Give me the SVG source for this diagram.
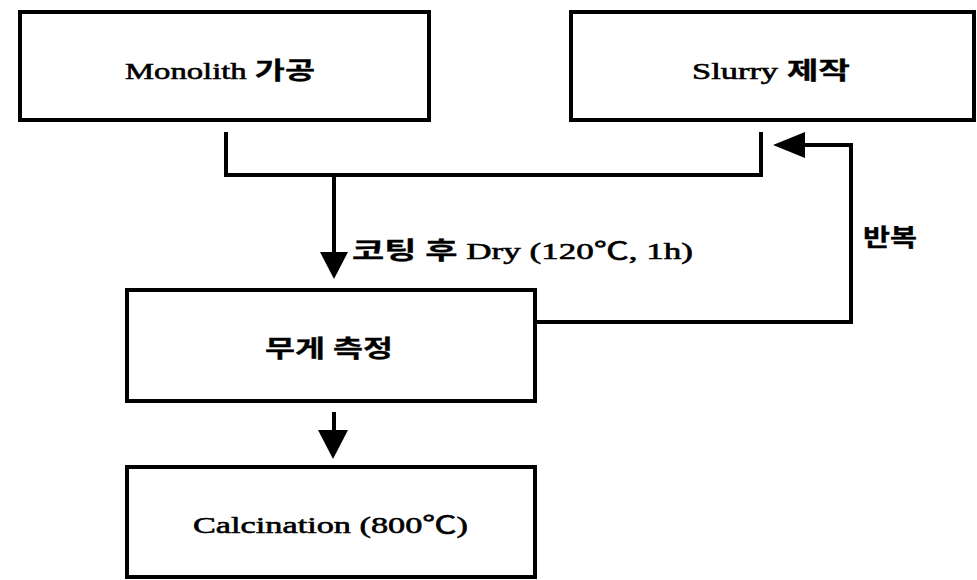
<svg xmlns="http://www.w3.org/2000/svg" width="977" height="580" viewBox="0 0 977 580">
<defs>
<style>
.box{fill:#fff;stroke:#000;stroke-width:4}
.ln{fill:none;stroke:#000;stroke-width:4;stroke-linejoin:miter}
.t{font-family:"Liberation Serif","Noto Sans CJK KR",serif;font-size:24px;font-weight:normal;fill:#000;stroke:#000;stroke-width:0.6}
.k{font-size:24px;font-weight:bold;stroke-width:0.3}
</style>
</defs>
<rect width="977" height="580" fill="#fff"/>
<g id="monolith"><rect class="box" x="20" y="12" width="409" height="108"/><text class="t" x="125" y="79" textLength="190" lengthAdjust="spacingAndGlyphs">Monolith <tspan class="k">가공</tspan></text></g>
<g id="slurry"><rect class="box" x="571" y="12" width="403" height="108"/><text class="t" x="692" y="79" textLength="158" lengthAdjust="spacingAndGlyphs">Slurry <tspan class="k">제작</tspan></text></g>
<g id="weigh"><rect class="box" x="127" y="290" width="408" height="111"/><text class="t k" x="265" y="357" textLength="128" lengthAdjust="spacingAndGlyphs">무게 측정</text></g>
<g id="calc"><rect class="box" x="127" y="467" width="408" height="110"/><text class="t" x="193" y="533" textLength="275" lengthAdjust="spacingAndGlyphs">Calcination (800℃)</text></g>
<g id="connectors">
<path class="ln" d="M226,132 V175 H761 V132"/>
<path class="ln" d="M334,175 V254"/>
<polygon points="320,252 348,252 334,279" fill="#000"/>
<path class="ln" d="M535,322 H851 V145 H800"/>
<polygon points="773,145 805,132 805,158" fill="#000"/>
<path class="ln" d="M334,412 V432"/>
<polygon points="318,430 348,430 333,459" fill="#000"/>
<text class="t" x="352" y="259" textLength="341" lengthAdjust="spacingAndGlyphs"><tspan class="k">코팅 후</tspan> Dry (120℃, 1h)</text>
<text class="t k" x="863" y="246" textLength="54" lengthAdjust="spacingAndGlyphs">반복</text>
</g>
</svg>
